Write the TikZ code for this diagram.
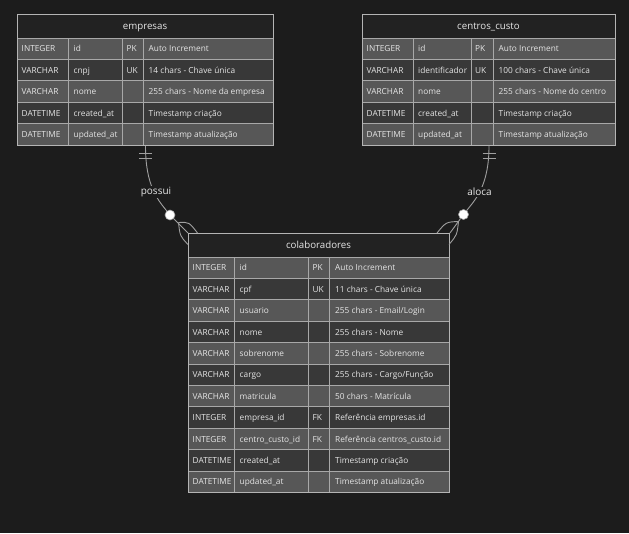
\documentclass[tikz,border=0pt]{standalone}
\usepackage{fontspec}
\setmainfont{Open Sans}
\definecolor{bg}{HTML}{1C1C1C}
\definecolor{headfill}{HTML}{222222}
\definecolor{rowlight}{HTML}{575757}
\definecolor{rowdark}{HTML}{383838}
\definecolor{cellline}{HTML}{A8A8A8}
\definecolor{boxline}{HTML}{B4B4B4}
\definecolor{txt}{HTML}{E6E6E6}
\definecolor{relline}{HTML}{A0A0A0}
\newcommand\settab[7]{\def\tname{#1}\def\tx{#2}\def\tb{#3}\def\tc{#4}\def\td{#5}\def\te{#6}\def\ty{#7}}
\newcommand\tabhead[2]{%
  \fill[headfill] (\tx,\ty) rectangle (\te,\ty+24);
  \node[headtext] (\tname-title) at ({(\tx+\te)/2},\ty+15.8) {#2};
  \pgfmathsetmacro\tabh{24+#1*21.4}%
}
\newcommand\erow[5]{%
  \pgfmathsetmacro\ya{\ty+24+(#1-1)*21.4}%
  \pgfmathsetmacro\yb{\ya+21.4}%
  \pgfmathsetmacro\ym{\ya+13.9}%
  \ifodd#1 \def\rf{rowlight}\else\def\rf{rowdark}\fi
  \path[cell,fill=\rf] (\tx,\ya) rectangle (\tb,\yb) (\tb,\ya) rectangle (\tc,\yb)
     (\tc,\ya) rectangle (\td,\yb) (\td,\ya) rectangle (\te,\yb);
  \node[celltext] (\tname-r#1-t) at (\tx+4.5,\ym) {#2};
  \node[celltext] (\tname-r#1-n) at (\tb+5,\ym) {#3};
  \node[celltext] (\tname-r#1-k) at (\tc+4,\ym) {#4};
  \node[celltext] (\tname-r#1-d) at (\td+5.5,\ym) {#5};
}
\newcommand\tabframe{%
  \pgfmathsetmacro\tabw{\te-\tx}%
  \node[tablebox, minimum width=\tabw pt, minimum height=\tabh pt] (\tname) at (\tx,\ty) {};
}
\begin{document}
\begin{tikzpicture}[x=1pt,y=-1pt,
  cell/.style={draw=cellline, line width=1pt},
  celltext/.style={anchor=base west, inner sep=0pt, text=txt, font=\fontsize{8.3}{10}\selectfont},
  headtext/.style={anchor=base, inner sep=0pt, text=txt, font=\fontsize{9.7}{12}\selectfont},
  tablebox/.style={draw=boxline, line width=1pt, inner sep=0pt, anchor=north west},
  rel/.style={draw=relline, line width=0.9pt},
  rellabel/.style={fill=bg, text=txt, inner sep=1pt, font=\fontsize{10}{12}\selectfont},
  circ/.style={circle, fill=white, draw=relline, line width=0.6pt, inner sep=0pt, minimum size=10pt}]
\fill[bg] (0,0) rectangle (629,533);
\useasboundingbox (0,0) rectangle (629,533);

% empresas
\settab{empresas}{17}{68.5}{122.5}{143}{273}{14}
\tabhead{5}{empresas}
\erow{1}{INTEGER}{id}{PK}{Auto Increment}
\erow{2}{VARCHAR}{cnpj}{UK}{14 chars - Chave única}
\erow{3}{VARCHAR}{nome}{}{255 chars - Nome da empresa}
\erow{4}{DATETIME}{created\_at}{}{Timestamp criação}
\erow{5}{DATETIME}{updated\_at}{}{Timestamp atualização}
\tabframe

% centros_custo
\settab{centros}{362}{413}{471}{493}{615}{14}
\tabhead{5}{centros\_custo}
\erow{1}{INTEGER}{id}{PK}{Auto Increment}
\erow{2}{VARCHAR}{identificador}{UK}{100 chars - Chave única}
\erow{3}{VARCHAR}{nome}{}{255 chars - Nome do centro}
\erow{4}{DATETIME}{created\_at}{}{Timestamp criação}
\erow{5}{DATETIME}{updated\_at}{}{Timestamp atualização}
\tabframe

% colaboradores
\settab{colaboradores}{188}{234.5}{308.5}{329.5}{449}{233}
\tabhead{11}{colaboradores}
\erow{1}{INTEGER}{id}{PK}{Auto Increment}
\erow{2}{VARCHAR}{cpf}{UK}{11 chars - Chave única}
\erow{3}{VARCHAR}{usuario}{}{255 chars - Email/Login}
\erow{4}{VARCHAR}{nome}{}{255 chars - Nome}
\erow{5}{VARCHAR}{sobrenome}{}{255 chars - Sobrenome}
\erow{6}{VARCHAR}{cargo}{}{255 chars - Cargo/Função}
\erow{7}{VARCHAR}{matricula}{}{50 chars - Matrícula}
\erow{8}{INTEGER}{empresa\_id}{FK}{Referência empresas.id}
\erow{9}{INTEGER}{centro\_custo\_id}{FK}{Referência centros\_custo.id}
\erow{10}{DATETIME}{created\_at}{}{Timestamp criação}
\erow{11}{DATETIME}{updated\_at}{}{Timestamp atualização}
\tabframe

% relation: empresas -- colaboradores
\node[circ] (lc) at (170,215) {};
\draw[rel] (empresas.south) .. controls +(0,40) and (158,200) .. (lc);
\draw[rel] (lc) -- (colaboradores.north west);
\draw[rel] ([shift={(-6.5,7.7)}]empresas.south) -- +(13,0);
\draw[rel] ([shift={(-6.5,12.7)}]empresas.south) -- +(13,0);
\coordinate (lf) at (178.5,222.5);
\draw[rel] (lf) .. controls (189,222) .. (197.5,233);
\draw[rel] (lf) .. controls (180,236) .. (188,244.5);
\node[rellabel] (l1) at (156,192) {possui};

% relation: centros_custo -- colaboradores
\node[circ] (rc) at (463.5,214.5) {};
\draw[rel] (centros.south) .. controls +(0,40) and (475,200) .. (rc);
\draw[rel] (rc) -- (colaboradores.north east);
\draw[rel] ([shift={(-6.5,7.7)}]centros.south) -- +(13,0);
\draw[rel] ([shift={(-6.5,12.7)}]centros.south) -- +(13,0);
\coordinate (rf) at (458.5,221.5);
\draw[rel] (rf) .. controls (446,222) .. (437,233);
\draw[rel] (rf) .. controls (457,235) .. (449,244.5);
\node[rellabel] (l2) at (479.5,192) {aloca};
\end{tikzpicture}
\end{document}
